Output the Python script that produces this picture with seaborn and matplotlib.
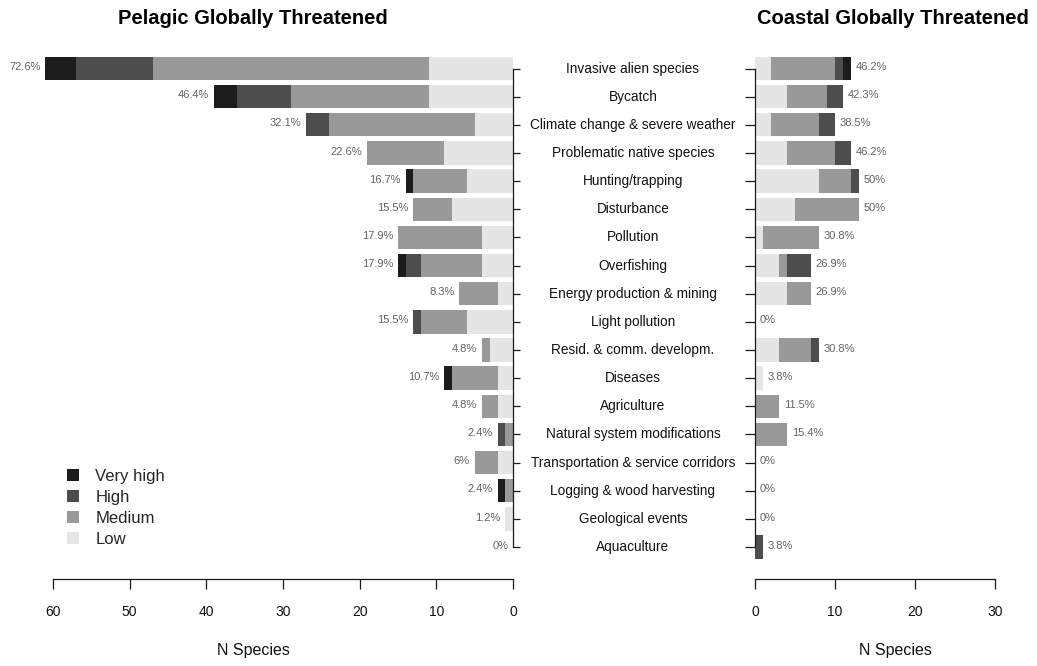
import numpy as np
import pandas as pd
import matplotlib
matplotlib.use("Agg")
import matplotlib.pyplot as plt
import matplotlib.transforms as mtransforms
from matplotlib.patches import Patch
import seaborn as sns

# ---------------- data ----------------
threats = ["Invasive alien species", "Bycatch", "Climate change & severe weather",
           "Problematic native species", "Hunting/trapping", "Disturbance", "Pollution",
           "Overfishing", "Energy production & mining", "Light pollution",
           "Resid. & comm. developm.", "Diseases", "Agriculture",
           "Natural system modifications", "Transportation & service corridors",
           "Logging & wood harvesting", "Geological events", "Aquaculture"]

levels = ["Very high", "High", "Medium", "Low"]
level_colors = ["#1c1c1c", "#4d4d4d", "#999999", "#e5e5e5"]

# Pelagic globally threatened (N = 84 species)
pel_low      = [11, 11, 5, 9, 6, 8, 4, 4, 2, 6, 3, 2, 2, 0, 2, 0, 1, 0]
pel_medium   = [36, 18, 19, 10, 7, 5, 11, 8, 5, 6, 1, 6, 2, 1, 3, 1, 0, 0]
pel_high     = [10, 7, 3, 0, 0, 0, 0, 2, 0, 1, 0, 0, 0, 1, 0, 0, 0, 0]
pel_veryhigh = [4, 3, 0, 0, 1, 0, 0, 1, 0, 0, 0, 1, 0, 0, 0, 1, 0, 0]
pel_n = 84

# Coastal globally threatened (N = 26 species)
coa_low      = [2, 4, 2, 4, 8, 5, 1, 3, 4, 0, 3, 1, 0, 0, 0, 0, 0, 0]
coa_medium   = [8, 5, 6, 6, 4, 8, 7, 1, 3, 0, 4, 0, 3, 4, 0, 0, 0, 0]
coa_high     = [1, 2, 2, 2, 1, 0, 0, 3, 0, 0, 1, 0, 0, 0, 0, 0, 0, 1]
coa_veryhigh = [1, 0, 0, 0, 0, 0, 0, 0, 0, 0, 0, 0, 0, 0, 0, 0, 0, 0]
coa_n = 26

x_ticks_left = [60, 50, 40, 30, 20, 10, 0]
x_ticks_right = [0, 10, 20, 30]

# ---------------- layout helpers ----------------
W, H = 1037, 666
DPI = 100
sns.set_theme(style="white")
plt.rcParams["font.family"] = ["Liberation Sans", "DejaVu Sans"]

fig = plt.figure(figsize=(W / DPI, H / DPI), dpi=DPI)

def px_rect(left, right, top, bottom):
    return [left / W, 1 - bottom / H, (right - left) / W, (bottom - top) / H]

ax_l = fig.add_axes(px_rect(40, 513, 50, 579))
ax_r = fig.add_axes(px_rect(755, 1000, 50, 579))

y_top = (50 - 68.5) / 28.15
y_bot = (579 - 68.5) / 28.15

def pct_label(count, n):
    s = "{:.1f}".format(round(count / n * 100, 1))
    if s.endswith(".0"):
        s = s[:-2]
    return s + "%"

def draw_panel(ax, low, med, high, vh):
    low = np.array(low); med = np.array(med); high = np.array(high); vh = np.array(vh)
    cums = [low + med + high + vh, low + med + high, low + med, low]
    for cum, col in zip(cums, level_colors):
        df = pd.DataFrame({"threat": threats, "n": cum})
        sns.barplot(data=df, x="n", y="threat", orient="h", color=col,
                    saturation=1, width=0.83, linewidth=0, ax=ax, errorbar=None)
    ax.set_xlabel("")
    ax.set_ylabel("")
    ax.set_ylim(y_bot, y_top)
    return cums[0]

tot_l = draw_panel(ax_l, pel_low, pel_medium, pel_high, pel_veryhigh)
tot_r = draw_panel(ax_r, coa_low, coa_medium, coa_high, coa_veryhigh)

ax_l.set_xlim(473 / (460 / 60), 0)
ax_r.set_xlim(0, 245 / 8.0)

axis_col = "#1a1a1a"
for ax in (ax_l, ax_r):
    for sp in ax.spines.values():
        sp.set_visible(False)
        sp.set_color(axis_col)
        sp.set_linewidth(0.9)
    ax.spines["bottom"].set_visible(True)
    ax.set_facecolor("none")
    ax.grid(False)

ax_l.spines["right"].set_visible(True)
ax_l.spines["right"].set_bounds(0, len(threats) - 1)
ax_l.spines["bottom"].set_bounds(0, 60)
ax_l.yaxis.tick_right()
ax_l.set_yticks(range(len(threats)))
ax_l.tick_params(axis="y", right=True, left=False, labelright=False, labelleft=False,
                 length=5, width=0.9, color=axis_col, direction="out")
ax_l.set_xticks(x_ticks_left)

ax_r.spines["left"].set_visible(True)
ax_r.spines["left"].set_bounds(0, len(threats) - 1)
ax_r.spines["bottom"].set_bounds(0, 30)
ax_r.set_yticks(range(len(threats)))
ax_r.tick_params(axis="y", left=True, right=False, labelleft=False, labelright=False,
                 length=7.5, width=0.9, color=axis_col, direction="out")
ax_r.set_xticks(x_ticks_right)

for ax in (ax_l, ax_r):
    ax.tick_params(axis="x", bottom=True, length=7.5, width=0.9, color=axis_col,
                   direction="out", pad=11, labelsize=10, labelcolor="#111111")

# percentage labels
pct_col = "#636363"
for i, t in enumerate(tot_l):
    ax_l.annotate(pct_label(t, pel_n), xy=(t, i), xytext=(-3.5, 1), textcoords="offset points",
                  ha="right", va="center", fontsize=8, color=pct_col)
for i, t in enumerate(tot_r):
    ax_r.annotate(pct_label(t, coa_n), xy=(t, i), xytext=(3.5, 1), textcoords="offset points",
                  ha="left", va="center", fontsize=8, color=pct_col)

# category labels between the panels
tr = mtransforms.blended_transform_factory(fig.transFigure, ax_l.transData)
for i, name in enumerate(threats):
    fig.text(633 / W, i, name, transform=tr, ha="center", va="center",
             fontsize=9.8, color="#111111")

# titles
fig.text(253 / W, 1 - 19 / H, "Pelagic Globally Threatened", ha="center", va="center",
         fontsize=14.5, fontweight="bold", color="black")
fig.text(893 / W, 1 - 19 / H, "Coastal Globally Threatened", ha="center", va="center",
         fontsize=14.5, fontweight="bold", color="black")

# x axis titles
fig.text(253 / W, 1 - 650 / H, "N Species", ha="center", va="center", fontsize=11.5, color="#111111")
fig.text(895 / W, 1 - 650 / H, "N Species", ha="center", va="center", fontsize=11.5, color="#111111")

# legend
handles = [Patch(facecolor=c, edgecolor="none", label=l) for l, c in zip(levels, level_colors)]
fig.legend(handles=handles, loc="upper left", bbox_to_anchor=(67 / W, 1 - 469 / H),
           frameon=False, fontsize=12, handlelength=0.7, handleheight=0.7,
           handletextpad=1.0, labelspacing=0.36, borderpad=0, borderaxespad=0)

fig.savefig("out.png", dpi=DPI)
